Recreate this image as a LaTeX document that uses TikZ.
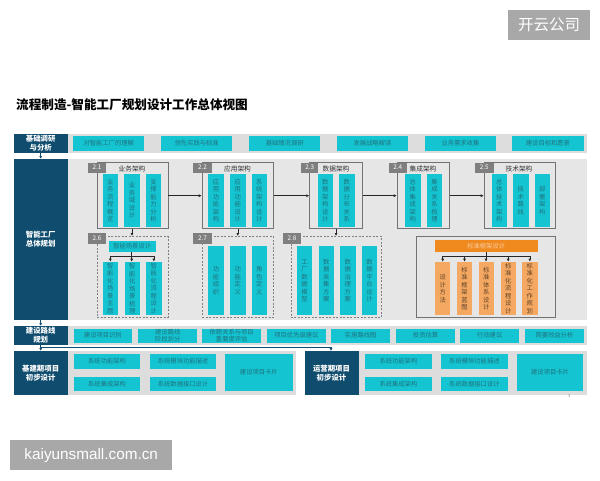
\documentclass[tikz,border=0pt]{standalone}
\usepackage{fontspec}
\setmainfont{Noto Sans CJK SC}
\newfontfamily\urlfont{Liberation Sans}
\usetikzlibrary{arrows.meta}

\definecolor{darkblue}{HTML}{0F4C6E}
\definecolor{tealbar}{HTML}{14C4D0}
\definecolor{tealtext}{HTML}{1F7280}
\definecolor{bandgrey}{HTML}{DDDDDD}
\definecolor{maingrey}{HTML}{E6E6E6}
\definecolor{taggrey}{HTML}{7F7F7F}
\definecolor{orangehead}{HTML}{F08A1E}
\definecolor{orangebar}{HTML}{F4A862}
\definecolor{markgrey}{HTML}{A8A8A8}

\tikzset{
  cell/.style={inner sep=0pt, anchor=north west, align=center, font=\fontsize{6.3}{7.5}\selectfont},
  head/.style={cell, fill=darkblue, text=white, font=\fontsize{7.4}{8.8}\selectfont\bfseries},
  band/.style={cell, fill=bandgrey},
  mainband/.style={cell, fill=maingrey},
  bar/.style={cell, fill=tealbar, text=tealtext},
  obar/.style={cell, fill=orangebar, text=black!60!orangebar},
  ohead/.style={cell, fill=orangehead, text=orangebar!60!white},
  tag/.style={cell, fill=taggrey, text=white},
  boxname/.style={cell, anchor=center, text=black!80, font=\fontsize{6.7}{8}\selectfont},
  frame/.style={cell, draw=black!55, line width=0.8pt},
  dframe/.style={cell, draw=black!50, line width=0.7pt, dash pattern=on 2pt off 1.5pt},
  link/.style={draw=black!85, line width=0.6pt, -{Latex[length=3pt,width=3pt]}},
  feed/.style={draw=darkblue, line width=0.6pt, -{Latex[length=2.5pt,width=3pt]}},
}

% name, style, left, top, right, bottom, text
\newcommand{\bx}[7]{\node[#2, minimum width={(#5-#3)*1pt}, minimum height={(#6-#4)*1pt}] (#1) at (#3,#4) {#7};}

\begin{document}
\begin{tikzpicture}[x=1pt,y=-1pt]
  \useasboundingbox (0,0) rectangle (600,480);

  % Title
  \node[anchor=west, inner sep=0pt, font=\fontsize{12.6}{14}\selectfont\bfseries] (title) at (16,105) {流程制造-智能工厂规划设计工作总体视图};

  % First row
  \bx{band1}{band}{67.5}{133.7}{587}{152.3}{}
  \bx{head1}{head}{13.5}{133.7}{67.5}{152.3}{基础调研\\与分析}
  \bx{a1}{bar}{73}{136}{144}{150.3}{对智能工厂的理解}
  \bx{a2}{bar}{161}{136}{232}{150.3}{领先实践与标准}
  \bx{a3}{bar}{249}{136}{320}{150.3}{基础情况调研}
  \bx{a4}{bar}{336.5}{136}{408}{150.3}{发展战略解读}
  \bx{a5}{bar}{425}{136}{495.5}{150.3}{业务需求收集}
  \bx{a6}{bar}{512}{136}{583.5}{150.3}{建设目标和愿景}

  % Main block
  \bx{band2}{mainband}{67.5}{158.7}{587}{320}{}
  \bx{head2}{head}{13.5}{158.7}{67.5}{320}{智能工厂\\总体规划}

  % 2.1
  \bx{f21}{frame}{96.7}{162.3}{167.5}{228.3}{}
  \bx{t21}{tag}{87.5}{162.3}{106}{172.5}{2.1}
  \node[boxname] (n21) at (132,168.5) {业务架构};
  \bx{b211}{bar}{102.3}{174}{118}{226.7}{业\\务\\流\\程\\概\\览}
  \bx{b212}{bar}{124}{174}{139.5}{226.7}{业\\务\\域\\设\\计}
  \bx{b213}{bar}{145.5}{174}{161}{226.7}{支\\撑\\能\\力\\分\\析}
  % 2.2
  \bx{f22}{frame}{201.7}{162.3}{273}{228.3}{}
  \bx{t22}{tag}{192.5}{162.3}{212}{172.5}{2.2}
  \node[boxname] (n22) at (237.5,168.5) {应用架构};
  \bx{b221}{bar}{208}{174}{223.5}{226.7}{应\\用\\功\\能\\架\\构}
  \bx{b222}{bar}{229.7}{174}{245.5}{226.7}{应\\用\\功\\能\\设\\计}
  \bx{b223}{bar}{251.3}{174}{267}{226.7}{系\\统\\架\\构\\设\\计}
  % 2.3
  \bx{f23}{frame}{309.3}{162.3}{362}{228.3}{}
  \bx{t23}{tag}{301}{162.3}{318}{172.5}{2.3}
  \node[boxname] (n23) at (336,168.5) {数据架构};
  \bx{b231}{bar}{317.3}{174}{332.7}{226.7}{数\\据\\架\\构\\设\\计}
  \bx{b232}{bar}{339}{174}{354.3}{226.7}{数\\据\\分\\布\\关\\系}
  % 2.4
  \bx{f24}{frame}{396.7}{162.3}{449}{228.3}{}
  \bx{t24}{tag}{388.3}{162.3}{406.7}{172.5}{2.4}
  \node[boxname] (n24) at (423,168.5) {集成架构};
  \bx{b241}{bar}{405}{174}{420.3}{226.7}{总\\体\\集\\成\\架\\构}
  \bx{b242}{bar}{426.7}{174}{442}{226.7}{集\\成\\关\\系\\梳\\理}
  % 2.5
  \bx{f25}{frame}{483.7}{162.3}{555}{228.3}{}
  \bx{t25}{tag}{475}{162.3}{493.3}{172.5}{2.5}
  \node[boxname] (n25) at (519,168.5) {技术架构};
  \bx{b251}{bar}{491.3}{174}{506.7}{226.7}{总\\体\\技\\术\\架\\构}
  \bx{b252}{bar}{513}{174}{528.3}{226.7}{技\\术\\路\\线}
  \bx{b253}{bar}{534.3}{174}{549.7}{226.7}{部\\署\\架\\构}

  \draw[link] (f21.east) -- (f21.east -| f22.west);
  \draw[link] (f22.east) -- (f22.east -| f23.west);
  \draw[link] (f23.east) -- (f23.east -| f24.west);
  \draw[link] (f24.east) -- (f24.east -| f25.west);

  % 2.6
  \bx{f26}{dframe}{96.7}{236}{167.5}{317.3}{}
  \bx{t26}{tag}{87.5}{232.3}{106}{243.3}{2.6}
  \bx{n26}{bar}{108.3}{240.7}{155.7}{251.7}{智能场景设计}
  \bx{b261}{bar}{102.3}{261.7}{118}{315}{智\\能\\化\\场\\景\\主\\题}
  \bx{b262}{bar}{124.3}{261.7}{140}{315}{智\\能\\化\\场\\景\\梳\\理}
  \bx{b263}{bar}{146}{261.7}{161.3}{315}{智\\能\\化\\流\\程\\设\\计}
  % 2.7
  \bx{f27}{dframe}{201.7}{236}{273}{317.3}{}
  \bx{t27}{tag}{192.5}{232.3}{212}{243.3}{2.7}
  \bx{b271}{bar}{208}{246}{223.5}{315}{功\\能\\组\\织}
  \bx{b272}{bar}{229.7}{246}{245.5}{315}{功\\能\\定\\义}
  \bx{b273}{bar}{251.3}{246}{267}{315}{角\\色\\定\\义}
  % 2.8
  \bx{f28}{dframe}{290.5}{236}{381}{317.3}{}
  \bx{t28}{tag}{282.7}{232.3}{301}{243.3}{2.8}
  \bx{b281}{bar}{296.7}{246}{312}{315}{工\\厂\\数\\据\\模\\型}
  \bx{b282}{bar}{318.3}{246}{333.7}{315}{数\\据\\采\\集\\方\\案}
  \bx{b283}{bar}{340}{246}{355.3}{315}{数\\据\\治\\理\\方\\案}
  \bx{b284}{bar}{361.7}{246}{377}{315}{数\\据\\平\\台\\设\\计}

  \draw[link] (f21.south -| b212) -- (f26.north -| b212);
  \draw[link] (f22.south -| b222) -- (f27.north -| b222);
  \draw[link] (f23.south) -- (f23.south |- f28.north);

  \coordinate (r26) at (131.7,256.5);
  \draw[draw=black!85, line width=0.6pt] (n26.south -| r26) -- (r26);
  \draw[link] (r26) -| (b261.north);
  \draw[link] (r26) -| (b263.north);
  \draw[link] (r26) -- (r26 |- b262.north);

  % Standard frame
  \bx{fs}{frame}{416}{236}{555}{316.7}{}
  \bx{ns}{ohead}{434.3}{240}{537.7}{251.7}{标准框架设计}
  \bx{o1}{obar}{435}{261.7}{450}{315}{设\\计\\方\\法}
  \bx{o2}{obar}{456.7}{261.7}{472}{315}{标\\准\\框\\架\\蓝\\图}
  \bx{o3}{obar}{478.3}{261.7}{493.7}{315}{标\\准\\体\\系\\设\\计}
  \bx{o4}{obar}{500.3}{261.7}{515.7}{315}{标\\准\\化\\流\\程\\设\\计}
  \bx{o5}{obar}{522}{261.7}{537.3}{315}{标\\准\\化\\工\\作\\规\\划}

  \coordinate (rs) at (486,256.5);
  \draw[draw=black!85, line width=0.6pt] (ns.south -| rs) -- (rs);
  \draw[link] (rs) -| (o1.north);
  \draw[link] (rs) -| (o2.north);
  \draw[link] (rs) -| (o4.north);
  \draw[link] (rs) -| (o5.north);
  \draw[link] (rs) -- (rs |- o3.north);

  % Roadmap row
  \bx{band3}{band}{67.5}{325.7}{587}{344.7}{}
  \bx{head3}{head}{13.5}{325.7}{67.5}{344.7}{建设路线\\规划}
  \bx{c1}{bar}{73.3}{328.3}{132}{342.3}{建设项目识别}
  \bx{c2}{bar}{138}{328.3}{197}{342.3}{建设路线\\阶段划分}
  \bx{c3}{bar}{202}{328.3}{261}{342.3}{依赖关系与项目\\重要度评估}
  \bx{c4}{bar}{266.7}{328.3}{325.7}{342.3}{项目优先级建议}
  \bx{c5}{bar}{331}{328.3}{390}{342.3}{实施路线图}
  \bx{c6}{bar}{395.7}{328.3}{455}{342.3}{投资估算}
  \bx{c7}{bar}{460}{328.3}{519}{342.3}{行动建议}
  \bx{c8}{bar}{524.7}{328.3}{583.7}{342.3}{简要效益分析}

  % Construction project
  \bx{band4}{band}{67.5}{350.7}{296}{394.7}{}
  \bx{head4}{head}{13.5}{350.7}{67.5}{394.7}{基建期项目\\初步设计}
  \bx{d1}{bar}{73.7}{354}{140}{368.3}{系统功能架构}
  \bx{d2}{bar}{149.7}{354}{216}{368.3}{系统模块功能描述}
  \bx{d3}{bar}{73.7}{376.7}{140}{390.7}{系统集成架构}
  \bx{d4}{bar}{149.7}{376.7}{216}{390.7}{系统数据接口设计}
  \bx{d5}{bar}{225}{354}{292.3}{390.7}{建设项目卡片}

  % Operation project
  \bx{band5}{band}{358.3}{350.7}{587}{394.7}{}
  \bx{head5}{head}{304.3}{350.7}{358.3}{394.7}{运营期项目\\初步设计}
  \bx{e1}{bar}{364.7}{354}{431.7}{368.3}{系统功能架构}
  \bx{e2}{bar}{440.7}{354}{507.7}{368.3}{系统模块功能描述}
  \bx{e3}{bar}{364.7}{376.7}{431.7}{390.7}{系统集成架构}
  \bx{e4}{bar}{440.7}{376.7}{507.7}{390.7}{系统数据接口设计}
  \bx{e5}{bar}{516.7}{354}{583}{390.7}{建设项目卡片}

  % Feed arrows
  \draw[feed] (head1.south) -- (head2.north);
  \draw[feed] (head2.south) -- (head3.north);
  \draw[feed] (head3.south) -- (head4.north);
  \coordinate (r3) at (40.5,347);
  \coordinate (r4) at (331,350.7);
  \draw[feed] (r3) -| (r4);

  % Page number
  \node[cell, text=black!50, font=\fontsize{4}{5}\selectfont] (page) at (568,394) {3};

  % Watermarks
  \bx{w1}{cell, fill=markgrey}{508}{10}{590}{39.5}{}
  \node[text=white, inner sep=0pt, font=\fontsize{15.5}{18}\selectfont] (w1t) at (w1.center) {开云公司};
  \bx{w2}{cell, fill=markgrey}{10}{440}{172}{470}{}
  \node[text=white, inner sep=0pt, font=\urlfont\fontsize{15.3}{18}\selectfont] (w2t) at (w2.center) {kaiyunsmall.com.cn};
\end{tikzpicture}
\end{document}
